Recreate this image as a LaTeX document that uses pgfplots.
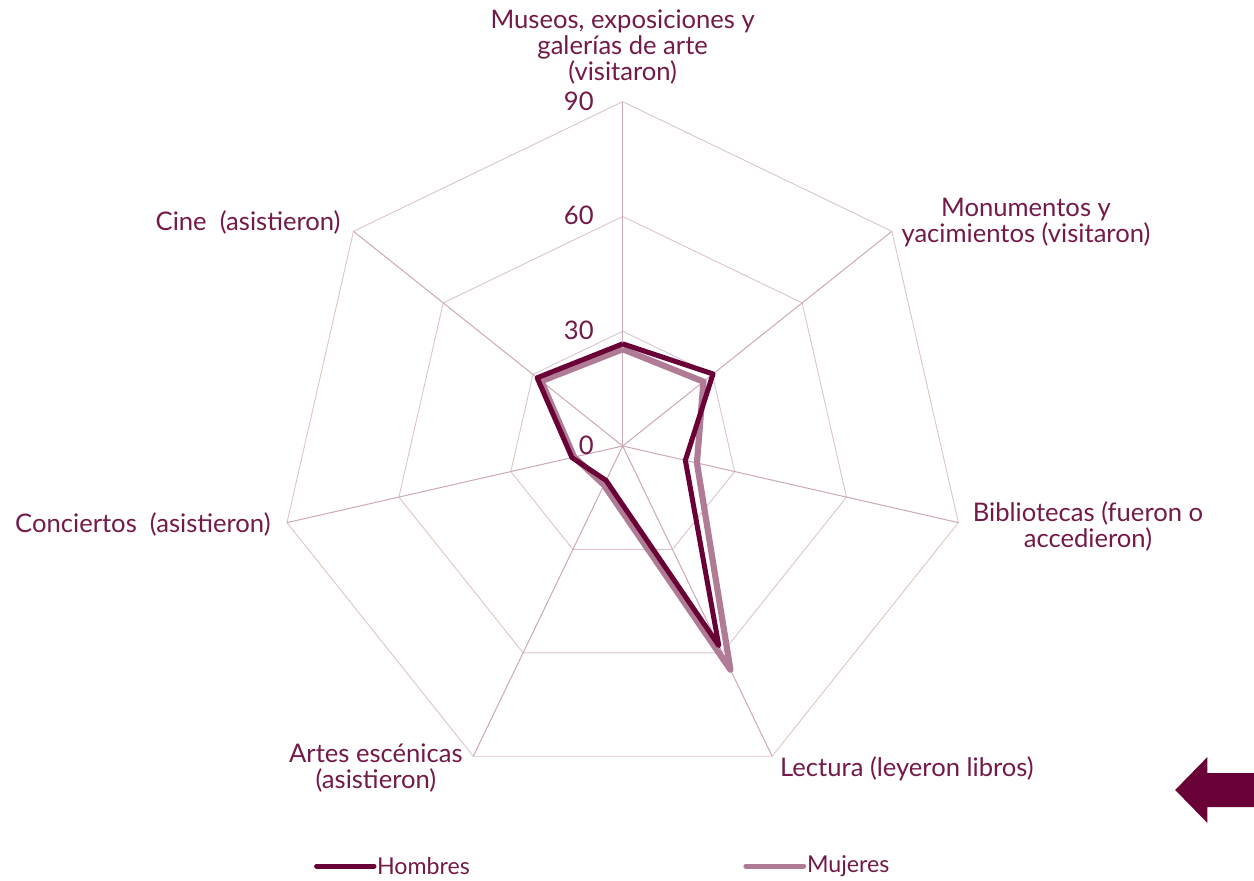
\documentclass[border=0pt]{standalone}
\usepackage{fontspec}
\setmainfont{Lato}
\usepackage{pgfplots}
\pgfplotsset{compat=1.18}
\definecolor{hom}{HTML}{690036}
\definecolor{muj}{HTML}{B07B94}
\definecolor{txt}{HTML}{741A48}
\definecolor{gridc}{HTML}{DCC4CF}
\definecolor{spoke}{HTML}{CDA8B8}
\tikzset{lab/.style={font=\fontsize{12.8}{13}\selectfont, text=txt, align=center, inner sep=0pt},
  leg/.style={font=\fontsize{11.6}{13}\selectfont, text=txt, inner sep=0pt}}
\begin{document}
\begin{tikzpicture}
\path[use as bounding box] (0,0) rectangle (627pt,440pt);
\begin{axis}[at={(0,0)}, anchor=south west, scale only axis,
  width=627pt, height=440pt,
  xmin=-162.75, xmax=165.0, ymin=-113.43, ymax=116.57,
  hide axis, clip=false]
% grid polygons
\addplot[gridc, line width=0.45pt, data cs=polar] coordinates {(90,30)(38.571,30)(-12.857,30)(-64.286,30)(-115.714,30)(-167.143,30)(141.429,30)(90,30)};
\addplot[gridc, line width=0.45pt, data cs=polar] coordinates {(90,60)(38.571,60)(-12.857,60)(-64.286,60)(-115.714,60)(-167.143,60)(141.429,60)(90,60)};
\addplot[gridc, line width=0.45pt, data cs=polar] coordinates {(90,90)(38.571,90)(-12.857,90)(-64.286,90)(-115.714,90)(-167.143,90)(141.429,90)(90,90)};
% spokes
\addplot[spoke, line width=0.5pt, data cs=polar] coordinates {(90,0)(90,90)};
\addplot[spoke, line width=0.5pt, data cs=polar] coordinates {(38.571,0)(38.571,90)};
\addplot[spoke, line width=0.5pt, data cs=polar] coordinates {(-12.857,0)(-12.857,90)};
\addplot[spoke, line width=0.5pt, data cs=polar] coordinates {(-64.286,0)(-64.286,90)};
\addplot[spoke, line width=0.5pt, data cs=polar] coordinates {(-115.714,0)(-115.714,90)};
\addplot[spoke, line width=0.5pt, data cs=polar] coordinates {(-167.143,0)(-167.143,90)};
\addplot[spoke, line width=0.5pt, data cs=polar] coordinates {(141.429,0)(141.429,90)};
% Mujeres
\addplot[muj, line width=3.1pt, line join=round, data cs=polar] coordinates {(90,25.3)(38.571,27.0)(-12.857,19.9)(-64.286,64.9)(-115.714,11.3)(-167.143,13.0)(141.429,27.2)(90,25.3)};
% Hombres
\addplot[hom, line width=2.5pt, line join=round, data cs=polar] coordinates {(90,26.7)(38.571,30.2)(-12.857,16.8)(-64.286,57.9)(-115.714,10.0)(-167.143,13.6)(141.429,28.6)(90,26.7)};
% tick labels
\node[lab, anchor=east] at (axis cs:-7.5,90.2) {90};
\node[lab, anchor=east] at (axis cs:-7.5,60.4) {60};
\node[lab, anchor=east] at (axis cs:-7.5,30.3) {30};
\node[lab, anchor=east] at (axis cs:-7.5,0.3) {0};
% category labels
\node[lab] at (axis cs:0,104.3) {Museos, exposiciones y\\galerías de arte\\(visitaron)};
\node[lab] at (axis cs:105.4,58.3) {Monumentos y\\yacimientos (visitaron)};
\node[lab] at (axis cs:121.6,-20.9) {Bibliotecas (fueron o\\accedieron)};
\node[lab] at (axis cs:74.3,-84.4) {Lectura (leyeron libros)};
\node[lab] at (axis cs:-64.5,-84.2) {Artes escénicas\\(asistieron)};
\node[lab] at (axis cs:-125.4,-20.6) {Conciertos\ \ (asistieron)};
\node[lab] at (axis cs:-97.9,58.5) {Cine\ \ (asistieron)};
% legend
\draw[hom, line width=2.5pt, line cap=round] (axis cs:-80.0,-109.8) -- (axis cs:-65.0,-109.8);
\node[leg, anchor=west] at (axis cs:-64.3,-109.8) {Hombres};
\draw[muj, line width=2.5pt, line cap=round] (axis cs:32.2,-109.8) -- (axis cs:47.3,-109.8);
\node[leg, anchor=west] at (axis cs:48.1,-109.8) {Mujeres};
% arrow
\fill[hom] (axis cs:144.4,-89.9) -- (axis cs:152.8,-81.3) -- (axis cs:152.8,-85.5) -- (axis cs:165.0,-85.5) -- (axis cs:165.0,-94.4) -- (axis cs:152.8,-94.4) -- (axis cs:152.8,-98.5) -- cycle;
\end{axis}
\end{tikzpicture}
\end{document}
